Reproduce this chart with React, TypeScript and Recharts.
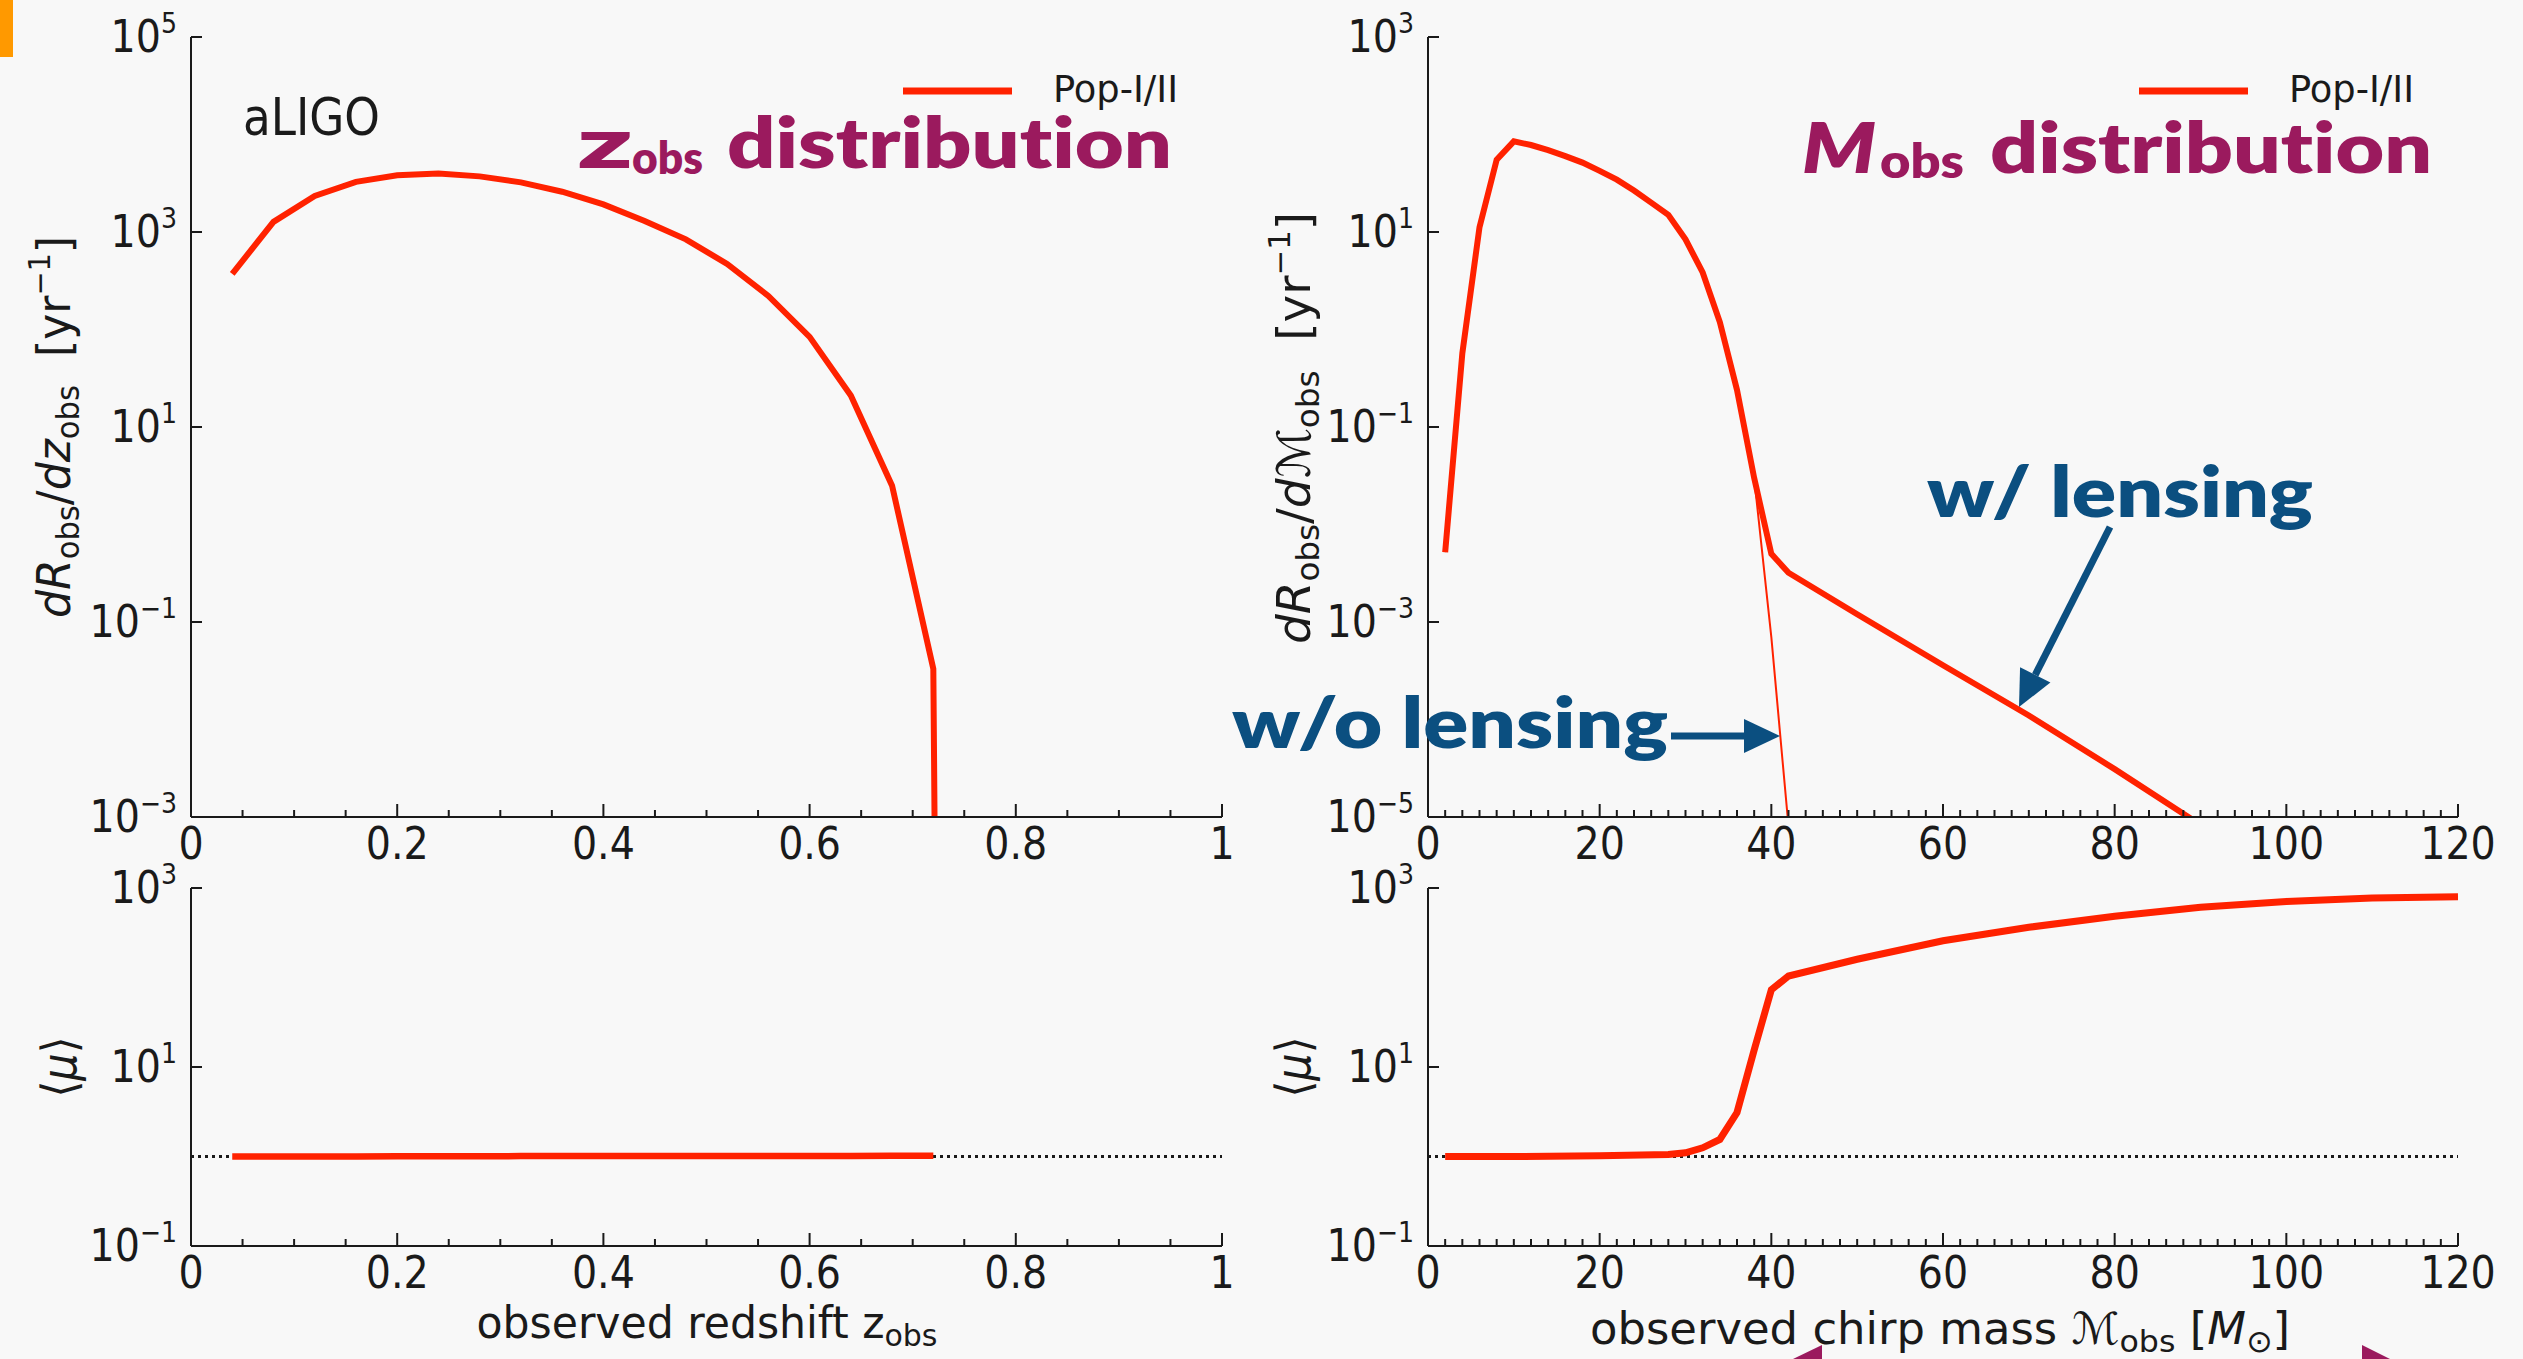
import React from "react";
import { LineChart, Line, XAxis, YAxis, ReferenceLine, Legend } from "recharts";

// values
const zObs = [0.04, 0.08, 0.12, 0.16, 0.2, 0.24, 0.28, 0.32, 0.36, 0.4, 0.44, 0.48, 0.52, 0.56, 0.6, 0.64, 0.68, 0.72, 0.7235];
const rateZ = [372, 1270, 2340, 3270, 3820, 3970, 3720, 3230, 2590, 1920, 1300, 840, 470, 221, 84, 21, 2.5, 0.033, 0.000001];
const muZ = [1.0, 1.0, 1.0, 1.0, 1.005, 1.005, 1.005, 1.01, 1.01, 1.01, 1.01, 1.012, 1.012, 1.015, 1.015, 1.015, 1.02, 1.02];

const massM = [2, 4, 6, 8, 10, 12, 14, 16, 18, 20, 22, 24, 26, 28, 30, 32, 34, 36, 38, 40, 42, 50, 60, 70, 80, 90];
const rateLensed = [0.0052, 0.57, 11.2, 55, 85, 78, 69, 60, 51.5, 42.4, 34.4, 26.6, 20, 15, 8.4, 3.85, 1.19, 0.24, 0.03, 0.005, 0.0032, 0.0012, 0.00036, 0.00011, 0.000031, 0.0000083];
const rateUnlensed = [0.0052, 0.57, 11.2, 55, 85, 78, 69, 60, 51.5, 42.4, 34.4, 26.6, 20, 15, 8.4, 3.85, 1.19, 0.24, 0.03, 0.0007, 0.000008];

const massMu = [2, 10, 20, 28, 30, 32, 34, 36, 38, 40, 42, 50, 60, 70, 80, 90, 100, 110, 120];
const muM = [1.0, 1.0, 1.02, 1.05, 1.1, 1.25, 1.55, 3.1, 15.5, 73, 104, 160, 257, 364, 484, 611, 708, 771, 800];

// tick labels
const zMajor = [0, 0.2, 0.4, 0.6, 0.8, 1];
const zMinor = Array.from({ length: 21 }, (_, i) => i * 0.05);
const mMajor = [0, 20, 40, 60, 80, 100, 120];
const mMinor = Array.from({ length: 61 }, (_, i) => i * 2);
const rateTicksZ = [1e-3, 1e-1, 1e1, 1e3, 1e5];
const rateTicksM = [1e-5, 1e-3, 1e-1, 1e1, 1e3];
const muTicks = [1e-1, 1e1, 1e3];

const zRows = zObs.map((x, i) => ({ x, rate: rateZ[i] }));
const zMuRows = muZ.map((mu, i) => ({ x: zObs[i], mu }));
const mRows = massM.map((x, i) => ({
  x,
  lensed: rateLensed[i],
  unlensed: i < rateUnlensed.length ? rateUnlensed[i] : null,
}));
const mMuRows = massMu.map((x, i) => ({ x, mu: muM[i] }));

const BG = "#f8f8f8";
const INK = "#1a1a1a";
const RED = "#ff2200";
const PURPLE = "#9b1a5e";
const BLUE = "#0b4f80";
const TICK_FONT = "'Liberation Sans Narrow', 'DejaVu Sans Condensed', 'Liberation Sans', sans-serif";
const ANNO_FONT = "Lato, 'Open Sans', sans-serif";
const noLig = { fontVariantLigatures: "none" as const, fontFeatureSettings: "'liga' 0, 'clig' 0" };

const axisLine = { stroke: INK, strokeWidth: 2 };
const isIn = (arr: number[], v: number) => arr.some((m) => Math.abs(m - v) < 1e-6);
const fmtNum = (v: number) => (Math.abs(v) < 1e-9 ? "0" : String(+v.toFixed(2)));

function bottomTick(major: number[]) {
  return (p: any) => {
    const v = p.payload.value;
    const big = isIn(major, v);
    return (
      <g>
        <line x1={p.x} x2={p.x} y1={p.y} y2={p.y - (big ? 13 : 7)} stroke={INK} strokeWidth={2} />
        {big && (
          <text x={p.x} y={p.y + 42} textAnchor="middle" fontFamily={TICK_FONT} fontSize={44} fill={INK}>
            {fmtNum(v)}
          </text>
        )}
      </g>
    );
  };
}

function topTick(major: number[]) {
  return (p: any) => {
    const big = isIn(major, p.payload.value);
    return <line x1={p.x} x2={p.x} y1={p.y} y2={p.y + (big ? 13 : 7)} stroke={INK} strokeWidth={2} />;
  };
}

function leftTick(p: any) {
  const e = Math.round(Math.log10(p.payload.value));
  return (
    <g>
      <line x1={p.x} x2={p.x + 11} y1={p.y} y2={p.y} stroke={INK} strokeWidth={2} />
      <text x={p.x - 14} y={p.y + 15} textAnchor="end" fontFamily={TICK_FONT} fontSize={44} fill={INK}>
        10
        <tspan fontSize={28} dy={-19}>
          {e < 0 ? "\u2212" + -e : String(e)}
        </tspan>
      </text>
    </g>
  );
}

function rightTick(p: any) {
  return <line x1={p.x} x2={p.x - 11} y1={p.y} y2={p.y} stroke={INK} strokeWidth={2} />;
}

function PopLegend({ payload }: any) {
  const item = (payload || []).find((d: any) => d.value === "Pop-I/II");
  if (!item) return null;
  return (
    <svg width={320} height={60} style={{ overflow: "visible" }}>
      <line x1={8} x2={117} y1={20} y2={20} stroke={item.color || RED} strokeWidth={7} />
      <text x={158} y={31} fontFamily={TICK_FONT} fontSize={37} fill={INK} textLength={125} lengthAdjust="spacingAndGlyphs">
        {item.value}
      </text>
    </svg>
  );
}

function Arrow({ x1, y1, x2, y2 }: { x1: number; y1: number; x2: number; y2: number }) {
  const len = Math.hypot(x2 - x1, y2 - y1);
  const ux = (x2 - x1) / len;
  const uy = (y2 - y1) / len;
  const bx = x2 - ux * 36;
  const by = y2 - uy * 36;
  const px = -uy * 17;
  const py = ux * 17;
  return (
    <g>
      <line x1={x1} y1={y1} x2={bx} y2={by} stroke={BLUE} strokeWidth={7} />
      <polygon points={`${x2},${y2} ${bx + px},${by + py} ${bx - px},${by - py}`} fill={BLUE} />
    </g>
  );
}

export default function App() {
  return (
    <div style={{ position: "absolute", left: 0, top: 0, width: 2523, height: 1359, background: BG, overflow: "hidden" }}>
      {/* top left: z_obs distribution */}
      <div style={{ position: "absolute", left: 0, top: 0 }}>
        <LineChart width={1250} height={880} data={zRows} margin={{ top: 37, right: 28, bottom: 0, left: 0 }}>
          <XAxis type="number" dataKey="x" domain={[0, 1]} ticks={zMinor} interval={0} tickSize={0} tickMargin={0}
            tick={bottomTick(zMajor)} tickLine={false} axisLine={axisLine} height={63} allowDataOverflow />
          <XAxis xAxisId="top" orientation="top" type="number" domain={[0, 1]} ticks={zMinor} interval={0} tickSize={0}
            tickMargin={0} tick={topTick(zMajor)} tickLine={false} axisLine={axisLine} height={0} allowDataOverflow />
          <YAxis type="number" scale="log" domain={[1e-3, 1e5]} ticks={rateTicksZ} interval={0} tickSize={0} tickMargin={0}
            tick={leftTick} tickLine={false} axisLine={axisLine} width={191} allowDataOverflow />
          <YAxis yAxisId="right" orientation="right" type="number" scale="log" domain={[1e-3, 1e5]} ticks={rateTicksZ}
            interval={0} tickSize={0} tickMargin={0} tick={rightTick} tickLine={false} axisLine={axisLine} width={0} allowDataOverflow />
          <Legend layout="vertical" align="center" verticalAlign="middle" width={320} height={60}
            wrapperStyle={{ left: 895, top: 71 }} content={PopLegend} />
          <Line type="linear" dataKey="rate" name="Pop-I/II" stroke={RED} strokeWidth={6} dot={false} isAnimationActive={false} />
        </LineChart>
      </div>

      {/* top right: chirp mass distribution */}
      <div style={{ position: "absolute", left: 1250, top: 0 }}>
        <LineChart width={1273} height={880} data={mRows} margin={{ top: 37, right: 65, bottom: 0, left: 0 }}>
          <XAxis type="number" dataKey="x" domain={[0, 120]} ticks={mMinor} interval={0} tickSize={0} tickMargin={0}
            tick={bottomTick(mMajor)} tickLine={false} axisLine={axisLine} height={63} allowDataOverflow />
          <XAxis xAxisId="top" orientation="top" type="number" domain={[0, 120]} ticks={mMinor} interval={0} tickSize={0}
            tickMargin={0} tick={topTick(mMajor)} tickLine={false} axisLine={axisLine} height={0} allowDataOverflow />
          <YAxis type="number" scale="log" domain={[1e-5, 1e3]} ticks={rateTicksM} interval={0} tickSize={0} tickMargin={0}
            tick={leftTick} tickLine={false} axisLine={axisLine} width={178} allowDataOverflow />
          <YAxis yAxisId="right" orientation="right" type="number" scale="log" domain={[1e-5, 1e3]} ticks={rateTicksM}
            interval={0} tickSize={0} tickMargin={0} tick={rightTick} tickLine={false} axisLine={axisLine} width={0} allowDataOverflow />
          <Legend layout="vertical" align="center" verticalAlign="middle" width={320} height={60}
            wrapperStyle={{ left: 881, top: 71 }} content={PopLegend} />
          <Line type="linear" dataKey="lensed" name="Pop-I/II" stroke={RED} strokeWidth={6} dot={false} isAnimationActive={false} />
          <Line type="linear" dataKey="unlensed" name="no lensing" legendType="none" stroke={RED} strokeWidth={2}
            dot={false} isAnimationActive={false} />
        </LineChart>
      </div>

      {/* bottom left: <mu> vs z */}
      <div style={{ position: "absolute", left: 0, top: 850 }}>
        <LineChart width={1250} height={509} data={zMuRows} margin={{ top: 38, right: 28, bottom: 0, left: 0 }}>
          <XAxis type="number" dataKey="x" domain={[0, 1]} ticks={zMinor} interval={0} tickSize={0} tickMargin={0}
            tick={bottomTick(zMajor)} tickLine={false} axisLine={axisLine} height={113} allowDataOverflow />
          <XAxis xAxisId="top" orientation="top" type="number" domain={[0, 1]} ticks={zMinor} interval={0} tickSize={0}
            tickMargin={0} tick={topTick(zMajor)} tickLine={false} axisLine={{ stroke: INK, strokeWidth: 3 }} height={0} allowDataOverflow />
          <YAxis type="number" scale="log" domain={[0.1, 1000]} ticks={muTicks} interval={0} tickSize={0} tickMargin={0}
            tick={leftTick} tickLine={false} axisLine={axisLine} width={191} allowDataOverflow />
          <YAxis yAxisId="right" orientation="right" type="number" scale="log" domain={[0.1, 1000]} ticks={muTicks}
            interval={0} tickSize={0} tickMargin={0} tick={rightTick} tickLine={false} axisLine={axisLine} width={0} allowDataOverflow />
          <ReferenceLine y={1} stroke={INK} strokeWidth={3} strokeDasharray="3 4" />
          <Line type="linear" dataKey="mu" stroke={RED} strokeWidth={6.5} dot={false} isAnimationActive={false} />
        </LineChart>
      </div>

      {/* bottom right: <mu> vs chirp mass */}
      <div style={{ position: "absolute", left: 1250, top: 850 }}>
        <LineChart width={1273} height={509} data={mMuRows} margin={{ top: 38, right: 65, bottom: 0, left: 0 }}>
          <XAxis type="number" dataKey="x" domain={[0, 120]} ticks={mMinor} interval={0} tickSize={0} tickMargin={0}
            tick={bottomTick(mMajor)} tickLine={false} axisLine={axisLine} height={113} allowDataOverflow />
          <XAxis xAxisId="top" orientation="top" type="number" domain={[0, 120]} ticks={mMinor} interval={0} tickSize={0}
            tickMargin={0} tick={topTick(mMajor)} tickLine={false} axisLine={{ stroke: INK, strokeWidth: 3 }} height={0} allowDataOverflow />
          <YAxis type="number" scale="log" domain={[0.1, 1000]} ticks={muTicks} interval={0} tickSize={0} tickMargin={0}
            tick={leftTick} tickLine={false} axisLine={axisLine} width={178} allowDataOverflow />
          <YAxis yAxisId="right" orientation="right" type="number" scale="log" domain={[0.1, 1000]} ticks={muTicks}
            interval={0} tickSize={0} tickMargin={0} tick={rightTick} tickLine={false} axisLine={axisLine} width={0} allowDataOverflow />
          <ReferenceLine y={1} stroke={INK} strokeWidth={3} strokeDasharray="3 4" />
          <Line type="linear" dataKey="mu" stroke={RED} strokeWidth={7} dot={false} isAnimationActive={false} />
        </LineChart>
      </div>

      {/* titles and slide annotations */}
      <svg width={2523} height={1359} style={{ position: "absolute", left: 0, top: 0, pointerEvents: "none" }}>
        <rect x={0} y={0} width={13} height={57} fill="#ff9900" />

        <text x={243} y={135} fontFamily={TICK_FONT} fontSize={52} fill={INK} textLength={137} lengthAdjust="spacingAndGlyphs">
          aLIGO
        </text>

        <g fontFamily={ANNO_FONT} fontWeight={800} fill={PURPLE} style={noLig}>
          <text x={577} y={168} fontSize={70} textLength={56} lengthAdjust="spacingAndGlyphs">z</text>
          <text x={632} y={174} fontSize={46} textLength={71} lengthAdjust="spacingAndGlyphs">obs</text>
          <text x={727} y={168} fontSize={70} textLength={445} lengthAdjust="spacingAndGlyphs">distribution</text>
          <text x={1802} y={173} fontSize={70} fontStyle="italic" textLength={74} lengthAdjust="spacingAndGlyphs">M</text>
          <text x={1880} y={178} fontSize={48} textLength={84} lengthAdjust="spacingAndGlyphs">obs</text>
          <text x={1990} y={173} fontSize={70} textLength={442} lengthAdjust="spacingAndGlyphs">distribution</text>
        </g>

        <g fontFamily={ANNO_FONT} fontWeight={800} fill={BLUE} style={noLig}>
          <text x={1927} y={517} fontSize={70} textLength={386} lengthAdjust="spacingAndGlyphs">w/ lensing</text>
          <text x={1232} y={748} fontSize={70} textLength={436} lengthAdjust="spacingAndGlyphs">w/o lensing</text>
        </g>
        <Arrow x1={2110} y1={527} x2={2019} y2={707} />
        <Arrow x1={1671} y1={736} x2={1780} y2={736} />

        {/* axis titles */}
        <g fontFamily={TICK_FONT} fill={INK}>
          <g transform="translate(70,427) rotate(-90)">
            <text textAnchor="middle" fontSize={46} textLength={382} lengthAdjust="spacingAndGlyphs">
              <tspan fontStyle="italic">dR</tspan>
              <tspan fontSize={32} dy={9}>obs</tspan>
              <tspan dy={-9}>/</tspan>
              <tspan fontStyle="italic">dz</tspan>
              <tspan fontSize={32} dy={9}>obs</tspan>
              <tspan dy={-9}>{"\u00a0\u00a0[yr"}</tspan>
              <tspan fontSize={30} dy={-20}>{"\u22121"}</tspan>
              <tspan dy={20}>]</tspan>
            </text>
          </g>
          <g transform="translate(1310,428) rotate(-90)">
            <text textAnchor="middle" fontSize={46} textLength={432} lengthAdjust="spacingAndGlyphs">
              <tspan fontStyle="italic">dR</tspan>
              <tspan fontSize={32} dy={9}>obs</tspan>
              <tspan dy={-9}>/</tspan>
              <tspan fontStyle="italic">d</tspan>
              <tspan fontStyle="italic">{"\u2133"}</tspan>
              <tspan fontSize={32} dy={9}>obs</tspan>
              <tspan dy={-9}>{"\u00a0\u00a0[yr"}</tspan>
              <tspan fontSize={30} dy={-20}>{"\u22121"}</tspan>
              <tspan dy={20}>]</tspan>
            </text>
          </g>
          <g transform="translate(76,1067) rotate(-90)">
            <text textAnchor="middle" fontSize={48}>
              {"\u27e8"}
              <tspan fontStyle="italic">{"\u03bc"}</tspan>
              {"\u27e9"}
            </text>
          </g>
          <g transform="translate(1310,1067) rotate(-90)">
            <text textAnchor="middle" fontSize={48}>
              {"\u27e8"}
              <tspan fontStyle="italic">{"\u03bc"}</tspan>
              {"\u27e9"}
            </text>
          </g>
          <text x={707} y={1338} textAnchor="middle" fontSize={44} textLength={461} lengthAdjust="spacingAndGlyphs">
            observed redshift z<tspan fontSize={31} dy={8}>obs</tspan>
          </text>
          <text x={1940} y={1344} textAnchor="middle" fontSize={44} textLength={700} lengthAdjust="spacingAndGlyphs">
            {"observed chirp mass "}
            <tspan fontStyle="italic">{"\u2133"}</tspan>
            <tspan fontSize={31} dy={8}>obs</tspan>
            <tspan dy={-8}>{" ["}</tspan>
            <tspan fontStyle="italic">M</tspan>
            <tspan fontSize={31} dy={8}>{"\u2299"}</tspan>
            <tspan dy={-8}>]</tspan>
          </text>
        </g>

        <polygon points="1822,1345 1822,1359 1793,1359" fill={PURPLE} />
        <polygon points="2362,1345 2362,1359 2390,1359" fill={PURPLE} />
      </svg>
    </div>
  );
}
